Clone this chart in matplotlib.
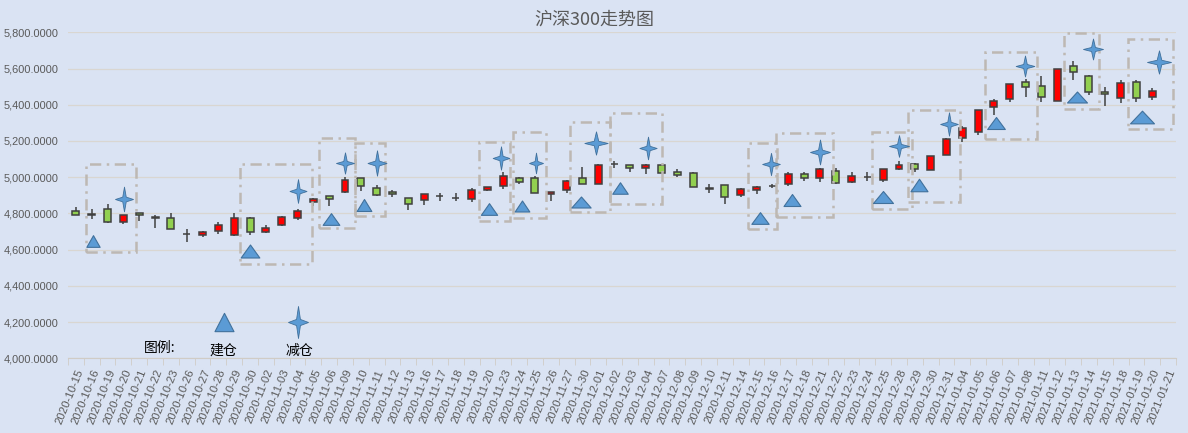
import numpy as np
import matplotlib
matplotlib.use("Agg")
import matplotlib.pyplot as plt
from matplotlib.path import Path
from matplotlib.patches import Rectangle

plt.rcParams['font.family'] = ['Noto Sans CJK SC', 'DejaVu Sans']

dates = ["2020-10-15","2020-10-16","2020-10-19","2020-10-20","2020-10-21","2020-10-22","2020-10-23",
         "2020-10-26","2020-10-27","2020-10-28","2020-10-29","2020-10-30","2020-11-02","2020-11-03",
         "2020-11-04","2020-11-05","2020-11-06","2020-11-09","2020-11-10","2020-11-11","2020-11-12",
         "2020-11-13","2020-11-16","2020-11-17","2020-11-18","2020-11-19","2020-11-20","2020-11-23",
         "2020-11-24","2020-11-25","2020-11-26","2020-11-27","2020-11-30","2020-12-01","2020-12-02",
         "2020-12-03","2020-12-04","2020-12-07","2020-12-08","2020-12-09","2020-12-10","2020-12-11",
         "2020-12-14","2020-12-15","2020-12-16","2020-12-17","2020-12-18","2020-12-21","2020-12-22",
         "2020-12-23","2020-12-24","2020-12-25","2020-12-28","2020-12-29","2020-12-30","2020-12-31",
         "2021-01-04","2021-01-05","2021-01-06","2021-01-07","2021-01-08","2021-01-11","2021-01-12",
         "2021-01-13","2021-01-14","2021-01-15","2021-01-18","2021-01-19","2021-01-20","2021-01-21"]

open_ = [4811,4794,4822,4750,4800,4777,4772,4688,4679,4701,4682,4772,4699,4737,4776,4861,4894,4916,
         4993,4938,4918,4883,4875,4898,4887,4877,4928,4954,4994,4994,4906,4928,4994,4961,5073,5066,
         5048,5066,5029,5022,4938,4956,4899,4932,4953,4961,5018,4993,5035,4976,5003,4982,5044,5071,
         5038,5121,5215,5248,5386,5430,5526,5502,5419,5612,5557,5469,5436,5524,5441,np.nan]
high = [4833,4822,4850,4790,4801,4790,4800,4712,4704,4750,4800,4778,4736,4787,4822,4883,4895,4999,
        4994,4955,4929,4884,4906,4915,4912,4939,4946,5029,5002,5006,4918,4985,5055,5072,5090,5067,
        5072,5070,5044,5031,4961,4957,4939,4954,4963,5026,5031,5052,5052,5026,5028,5045,5088,5077,
        5116,5218,5285,5370,5434,5514,5544,5557,5597,5644,5564,5500,5539,5535,5494,np.nan]
low = [4790,4767,4745,4739,4756,4721,4714,4640,4668,4684,4677,4682,4693,4731,4765,4839,4842,4915,
       4925,4894,4888,4820,4848,4866,4867,4864,4921,4937,4961,4911,4867,4915,4960,4960,5048,5031,
       5018,5021,5000,4944,4915,4851,4890,4908,4941,4952,4980,4972,4961,4967,4978,4972,5037,5031,
       5037,5120,5193,5232,5344,5415,5441,5415,5418,5535,5456,5393,5408,5413,5425,np.nan]
close = [4793,4793,4754,4789,4789,4776,4715,4687,4695,4734,4772,4695,4717,4780,4815,4881,4881,4982,
         4953,4903,4907,4853,4905,4897,4886,4928,4945,5006,4972,4912,4917,4978,4961,5066,5072,5053,
         5066,5022,5011,4945,4937,4890,4934,4945,4952,5018,4998,5046,4967,5006,5002,5044,5065,5044,
         5115,5211,5270,5369,5421,5513,5496,5441,5596,5579,5469,5458,5518,5436,5474,np.nan]

# 建仓 markers (x in category units, value), and their size in pixels (w, h)
buy_x = [1.06, 11.0, 16.11, 18.2, 26.07, 28.16, 31.93, 34.4, 43.2, 45.25, 51.0, 53.27, 58.1, 63.22, 67.35]
buy_y = [4649, 4594, 4768, 4846, 4827, 4840, 4862, 4943, 4777, 4876, 4892, 4955, 5301, 5442, 5332]
buy_w = [13.3, 18.7, 16.7, 14.7, 16.3, 14.7, 19.3, 15.5, 17.3, 17, 20, 17, 17.7, 20, 24]
buy_h = [11.7, 13, 11.7, 12, 11.7, 11, 11, 11.5, 11.7, 12, 12, 12.5, 12, 11, 12.7]
# 减仓 markers
sell_x = [3.04, 14.05, 16.98, 19.0, 26.85, 29.08, 32.84, 36.12, 43.93, 47.0, 52.02, 55.14, 59.96, 64.24, 68.4]
sell_y = [4881, 4925, 5077, 5077, 5108, 5077, 5187, 5163, 5074, 5137, 5174, 5292, 5616, 5709, 5638]
sell_w = [18, 17, 18, 19, 16.7, 14, 23.3, 17.3, 17.7, 20, 20, 17.7, 18.7, 20, 24]
sell_h = [24.7, 23.7, 21.3, 25.3, 23.3, 20.7, 23.3, 22.7, 22.3, 25, 21.7, 23.3, 21, 21, 23.3]

# dashed boxes: x0, x1 (category units), v_low, v_high
box_x0 = [0.62, 10.37, 15.38, 17.65, 25.45, 27.63, 31.23, 33.74, 42.48, 44.23, 50.27, 52.59, 57.43, 62.44, 66.45]
box_x1 = [3.80, 14.90, 17.65, 19.55, 27.42, 29.70, 33.74, 37.01, 44.29, 47.81, 52.80, 55.85, 60.70, 64.65, 69.33]
box_lo = [4587, 4521, 4718, 4786, 4758, 4773, 4806, 4850, 4712, 4779, 4823, 4861, 5211, 5375, 5266]
box_hi = [5074, 5071, 5218, 5187, 5193, 5248, 5303, 5353, 5187, 5242, 5251, 5371, 5690, 5795, 5761]

legend_labels = ["图例:", "建仓", "减仓"]

BG = '#DAE3F3'
fig = plt.figure(figsize=(11.88, 4.33), dpi=100, facecolor=BG)
ax = fig.add_axes([68/1188, 1-358.3/433, 1108/1188, (358.3-32.3)/433], facecolor=BG)

n = len(dates)
xs = np.arange(n)
o = np.array(open_, float); c = np.array(close, float)
h = np.array(high, float); l = np.array(low, float)

ax.set_xlim(-0.5, n - 0.5)
ax.set_ylim(4000, 5800)
ax.set_yticks(np.arange(4000, 5801, 200))
ax.yaxis.set_major_formatter(matplotlib.ticker.FuncFormatter(lambda v, p: f"{v:,.4f}"))
ax.grid(axis='y', color='#D9D6D1', linewidth=0.9, zorder=0)
for s in ['top', 'right', 'left']:
    ax.spines[s].set_visible(False)
ax.spines['bottom'].set_color('#D0CCC6')
ax.tick_params(axis='y', length=0, pad=6.8, labelcolor='#595959', labelsize=7.9)
for t in ax.get_yticklabels():
    t.set_fontfamily('Liberation Sans')

ax.set_xticks(xs)
ax.set_xticklabels(dates, rotation=68, ha='right', va='top', rotation_mode='anchor',
                   fontsize=8.2, color='#595959', family='Liberation Sans')
ax.tick_params(axis='x', which='major', length=0, pad=7)
ax.set_xticks(np.arange(n + 1) - 0.5, minor=True)
ax.tick_params(axis='x', which='minor', length=5, color='#D0CCC6')

# candles
valid = ~np.isnan(o)
ax.vlines(xs[valid], l[valid], h[valid], color='#404040', linewidth=1.1, zorder=3)
up = valid & (c >= o)
dn = valid & (c < o)
bw = 0.44
def bodies(mask, color):
    bot = np.minimum(o[mask], c[mask])
    ht = np.maximum(np.abs(c[mask] - o[mask]), 1.5)
    ax.bar(xs[mask], ht, bottom=bot, width=bw, color=color, edgecolor='#404040',
           linewidth=1.1, zorder=4)
bodies(up, '#FF0000')
bodies(dn, '#92D050')

# boxes
for x0, x1, lo, hi in zip(box_x0, box_x1, box_lo, box_hi):
    ax.add_patch(Rectangle((x0, lo), x1 - x0, hi - lo, fill=False, edgecolor='#BDB8B3',
                           linewidth=1.8, linestyle=(0, (4.5, 2.2, 1, 2.2)), zorder=5))

PX = 72 / 100.0
def tri_marker(w, hgt):
    m = max(w, hgt)
    verts = [(-w/2/m, -hgt/2/m), (w/2/m, -hgt/2/m), (0, hgt/2/m), (-w/2/m, -hgt/2/m)]
    return Path(verts, [Path.MOVETO, Path.LINETO, Path.LINETO, Path.CLOSEPOLY])

def star_marker(w, hgt, a=0.16):
    m = max(w, hgt)
    rx, ry = w/2/m, hgt/2/m
    ix, iy = a*rx*1.2, a*ry*1.2
    verts = [(0, ry), (ix, iy), (rx, 0), (ix, -iy), (0, -ry), (-ix, -iy), (-rx, 0), (-ix, iy), (0, ry)]
    codes = [Path.MOVETO] + [Path.LINETO]*7 + [Path.CLOSEPOLY]
    return Path(verts, codes)

FILL = '#5B9BD5'; EDGE = '#41719C'
for x, y, w, hh in zip(buy_x, buy_y, buy_w, buy_h):
    ax.plot([x], [y], marker=tri_marker(w, hh), markersize=max(w, hh)*PX, color=FILL,
            markeredgecolor=EDGE, markeredgewidth=0.8, linestyle='none', zorder=6, clip_on=False)
for x, y, w, hh in zip(sell_x, sell_y, sell_w, sell_h):
    ax.plot([x], [y], marker=star_marker(w, hh), markersize=max(w, hh)*PX, color=FILL,
            markeredgecolor=EDGE, markeredgewidth=0.6, linestyle='none', zorder=6, clip_on=False)

# legend drawn in the plot
leg_x = [5.31, 9.34, 14.05]
ax.plot([leg_x[1]], [4198], marker=tri_marker(19, 18.3), markersize=19*PX, color=FILL,
        markeredgecolor=EDGE, markeredgewidth=0.8, linestyle='none', zorder=6)
ax.plot([leg_x[2]], [4200], marker=star_marker(20, 32), markersize=32*PX, color=FILL,
        markeredgecolor=EDGE, markeredgewidth=0.6, linestyle='none', zorder=6)
ax.text(leg_x[0], 4058, legend_labels[0], ha='center', va='center', fontsize=10, color='black')
ax.text(leg_x[1], 4040, legend_labels[1], ha='center', va='center', fontsize=10, color='black')
ax.text(leg_x[2] + 0.1, 4040, legend_labels[2], ha='center', va='center', fontsize=10, color='black')

fig.text(0.5, 1 - 20/433, "沪深300走势图", ha='center', va='center', fontsize=13, color='#595959')

fig.savefig('out.png', dpi=100, facecolor=BG)
